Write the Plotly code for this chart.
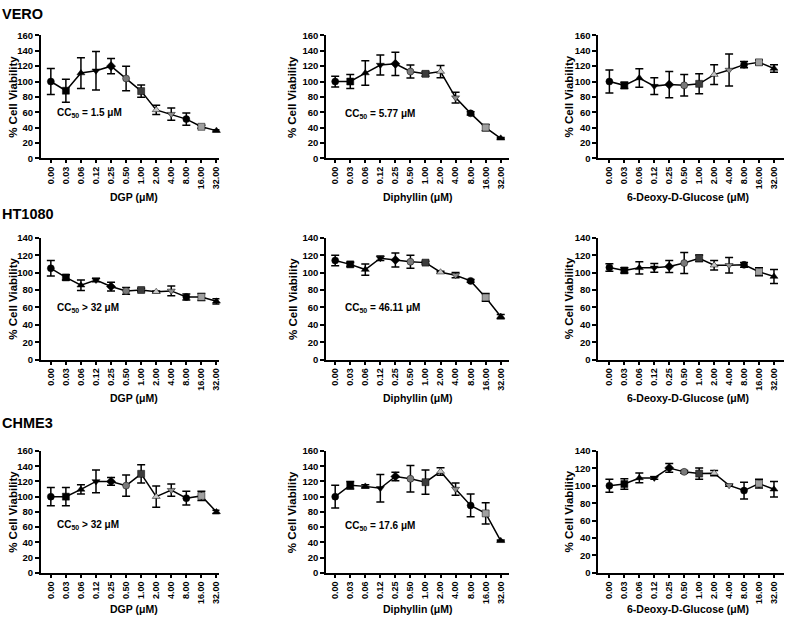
import plotly.graph_objects as go

# concentration categories (uM)
conc_labels = ["0.00", "0.03", "0.06", "0.12", "0.25", "0.50",
               "1.00", "2.00", "4.00", "8.00", "16.00", "32.00"]

cell_lines = ["VERO", "HT1080", "CHME3"]
compounds = ["DGP", "Diphyllin", "6-Deoxy-D-Glucose"]

# % cell viability, mean and SD
vero_dgp = [100, 88, 111, 114, 120, 104, 87.5, 63, 57.5, 51, 41, 36]
vero_dgp_sd = [17, 15, 20, 25, 10, 16, 8, 6, 8, 8, 2, 1]
vero_diph = [100, 100, 111, 121.5, 123, 113, 110, 113, 79, 58.5, 40, 26]
vero_diph_sd = [7, 9, 16, 13, 15, 8.5, 3, 8, 7, 2, 4, 1]
vero_6dg = [100, 95, 104.5, 94, 96, 95, 97, 109, 115, 122, 125, 117]
vero_6dg_sd = [15, 4, 12, 11, 17, 14, 13, 13, 21, 4, 3, 5]

ht_dgp = [105, 94.5, 85.5, 91.5, 84, 79, 80, 78, 79, 72, 72, 67]
ht_dgp_sd = [9, 3, 6, 2, 5, 4, 2, 1, 5.5, 3.5, 4, 3]
ht_diph = [114, 109.5, 103.5, 116.5, 114.5, 112.5, 111.5, 100.5, 97, 90.5, 71.5, 49.5]
ht_diph_sd = [6, 2.5, 6.5, 2.5, 8, 7.5, 1.5, 1, 3, 1.5, 4.5, 2.5]
ht_6dg = [106, 102.5, 105.5, 105.5, 107, 111, 116.5, 108.5, 108.5, 109, 101, 95.5]
ht_6dg_sd = [4.3, 3, 7, 5, 7, 12, 3.7, 5.5, 9, 2.7, 4.5, 8]

ch_dgp = [100, 100, 109.5, 120, 120, 114.5, 130, 100, 108.5, 98, 101, 80]
ch_dgp_sd = [12, 12, 6, 15, 5, 14, 12, 14, 8, 9, 6, 2]
ch_diph = [100, 115, 113.5, 111, 126.5, 123.5, 119, 133, 110, 88.5, 78, 42]
ch_diph_sd = [15, 5, 2, 18, 5.5, 17.5, 16, 5, 8, 15, 14, 1]
ch_6dg = [100, 102, 109, 109, 120.5, 116, 114, 114.5, 100.5, 94.5, 102.5, 96]
ch_6dg_sd = [7.5, 6, 5.6, 1.5, 5, 1.5, 6.4, 3, 1, 9.7, 5, 9]

# CC50 labels for the DGP and Diphyllin panels (None = no label)
cc50_text = [["= 1.5 μM", "= 5.77 μM", None],
             ["> 32 μM", "= 46.11 μM", None],
             ["> 32 μM", "= 17.6 μM", None]]
cc50_y = [[59, 58, None], [59, 59, None], [63, 62, None]]
y_max = [[160, 160, 160], [140, 140, 140], [160, 160, 140]]

panels = [
    [(vero_dgp, vero_dgp_sd), (vero_diph, vero_diph_sd), (vero_6dg, vero_6dg_sd)],
    [(ht_dgp, ht_dgp_sd), (ht_diph, ht_diph_sd), (ht_6dg, ht_6dg_sd)],
    [(ch_dgp, ch_dgp_sd), (ch_diph, ch_diph_sd), (ch_6dg, ch_6dg_sd)],
]

# Prism-style per-point symbols
symbols = ["circle", "square", "triangle-up", "triangle-down", "diamond", "circle",
           "square", "triangle-up", "triangle-down", "circle", "square", "triangle-up"]
colors = ["#000", "#000", "#000", "#000", "#000", "#7a7a7a",
          "#3c3c3c", "#c8c8c8", "#8c8c8c", "#000", "#a0a0a0", "#000"]

W, H = 787, 621
FONT = "Liberation Sans, Arial, sans-serif"

# pixel layout of the grid
col_px = [(41, 220), (327, 510), (600, 786)]
col_range = [(-0.66, 11.2), (-0.6, 11.53), (-0.73, 11.67)]
row_px = [(30, 155), (236, 360), (453, 577)]
row_label_y = [8, 212, 425]
xtitle_y = [194, 399, 614]
ytitle_x = [13, 293, 570]
xtitle_x = [134, 419, 690]

fig = go.Figure()
annotations = []
layout = {}

for r in range(3):
    for c in range(3):
        i = r * 3 + c + 1
        sfx = "" if i == 1 else str(i)
        y, sd = panels[r][c]
        fig.add_trace(go.Scatter(
            x=list(range(len(conc_labels))), y=y,
            mode="lines+markers",
            line=dict(color="black", width=1.5),
            marker=dict(symbol=symbols, color=colors, size=7,
                        line=dict(color="black", width=0.5)),
            error_y=dict(type="data", array=sd, visible=True,
                         color="black", thickness=1.5, width=4),
            cliponaxis=False,
            xaxis="x" + sfx, yaxis="y" + sfx,
        ))
        x0, x1 = col_px[c]
        ytop, ybot = row_px[r]
        tick_font = dict(family=FONT, size=9, color="black", weight="bold")
        layout["xaxis" + sfx] = dict(
            domain=[x0 / W, x1 / W], anchor="y" + sfx,
            range=list(col_range[c]),
            tickmode="array", tickvals=list(range(len(conc_labels))),
            ticktext=conc_labels, tickangle=-90,
            ticks="outside", ticklen=3, tickwidth=1.5, tickcolor="black",
            showline=True, linewidth=2, linecolor="black",
            showgrid=False, zeroline=False, tickfont=tick_font,
        )
        layout["yaxis" + sfx] = dict(
            domain=[1 - ybot / H, 1 - ytop / H], anchor="x" + sfx,
            range=[0, y_max[r][c]], dtick=20, tick0=0,
            ticks="outside", ticklen=4, tickwidth=1.5, tickcolor="black",
            showline=True, linewidth=2, linecolor="black",
            showgrid=False, zeroline=False,
            tickfont=dict(tick_font, size=9.5),
        )
        # y title
        annotations.append(dict(
            text="% Cell Viability", textangle=-90,
            x=ytitle_x[c] / W, y=1 - (ytop + ybot) / 2 / H,
            xref="paper", yref="paper", showarrow=False,
            xanchor="center", yanchor="middle",
            font=dict(family=FONT, size=11.5, color="black", weight="bold"),
        ))
        # x title
        annotations.append(dict(
            text=compounds[c] + " (μM)",
            x=xtitle_x[c] / W, y=1 - xtitle_y[r] / H,
            xref="paper", yref="paper", showarrow=False,
            xanchor="center", yanchor="middle",
            font=dict(family=FONT, size=10.5, color="black", weight="bold"),
        ))
        txt = cc50_text[r][c]
        if txt is not None:
            annotations.append(dict(
                text="CC<sub>50</sub> " + txt,
                x=0.25 if c == 0 else 0.5, y=cc50_y[r][c],
                xref="x" + sfx, yref="y" + sfx, showarrow=False,
                xanchor="left", yanchor="middle",
                font=dict(family=FONT, size=10, color="black", weight="bold"),
            ))

for r, name in enumerate(cell_lines):
    annotations.append(dict(
        text=name, x=0, y=1 - row_label_y[r] / H,
        xref="paper", yref="paper", showarrow=False,
        xanchor="left", yanchor="middle",
        font=dict(family=FONT, size=14.5, color="black", weight="bold"),
    ))

fig.update_layout(
    width=W, height=H,
    margin=dict(l=0, r=0, t=0, b=0),
    paper_bgcolor="white", plot_bgcolor="white",
    showlegend=False,
    annotations=annotations,
    **layout,
)

# page body has a default 8px margin; drop it so the figure sits at 0,0
fig.write_html("out.html", config={"displayModeBar": False},
               post_script="document.body.style.margin='0';")
